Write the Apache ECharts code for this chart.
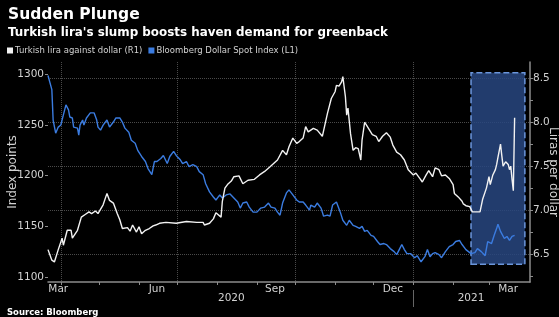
<!DOCTYPE html>
<html>
<head>
<meta charset="utf-8">
<script src="https://cdn.jsdelivr.net/npm/echarts@6/dist/echarts.min.js"></script>
<style>
  html, body { margin: 0; padding: 0; background: #000; }
  #chart { width: 559px; height: 317px; }
</style>
</head>
<body>
<div id="chart"></div>
<script>
// Turkish lira against dollar (R1)
var liraDates = ['2020-03-22','2020-03-25','2020-03-27','2020-03-30','2020-04-02','2020-04-03','2020-04-06','2020-04-09','2020-04-10','2020-04-14',
  '2020-04-17','2020-04-20','2020-04-23','2020-04-25','2020-04-28','2020-04-30','2020-05-04','2020-05-07','2020-05-09','2020-05-12',
  '2020-05-15','2020-05-17','2020-05-19','2020-05-23','2020-05-25','2020-05-27','2020-05-30','2020-06-01','2020-06-03','2020-06-06',
  '2020-06-09','2020-06-12','2020-06-14','2020-06-17','2020-06-22','2020-06-30','2020-07-08','2020-07-16','2020-07-21','2020-07-22',
  '2020-07-26','2020-07-29','2020-07-31','2020-08-04','2020-08-05','2020-08-07','2020-08-09','2020-08-12','2020-08-14','2020-08-18',
  '2020-08-21','2020-08-25','2020-08-30','2020-09-03','2020-09-07','2020-09-11','2020-09-17','2020-09-21','2020-09-24','2020-09-26',
  '2020-09-29','2020-10-02','2020-10-04','2020-10-07','2020-10-09','2020-10-11','2020-10-15','2020-10-18','2020-10-22','2020-10-24',
  '2020-10-26','2020-10-29','2020-11-01','2020-11-02','2020-11-04','2020-11-06','2020-11-07','2020-11-09','2020-11-10','2020-11-11',
  '2020-11-13','2020-11-15','2020-11-17','2020-11-19','2020-11-21','2020-11-22','2020-11-24','2020-11-27','2020-11-30','2020-12-03',
  '2020-12-05','2020-12-08','2020-12-11','2020-12-14','2020-12-16','2020-12-19','2020-12-22','2020-12-25','2020-12-28','2021-01-01',
  '2021-01-03','2021-01-06','2021-01-08','2021-01-11','2021-01-13','2021-01-16','2021-01-18','2021-01-21','2021-01-23','2021-01-26',
  '2021-01-29','2021-02-01','2021-02-02','2021-02-05','2021-02-08','2021-02-09','2021-02-11','2021-02-14','2021-02-16','2021-02-19',
  '2021-02-22','2021-02-24','2021-02-27','2021-03-01','2021-03-02','2021-03-04','2021-03-06','2021-03-07','2021-03-08','2021-03-10',
  '2021-03-11','2021-03-12','2021-03-14','2021-03-16','2021-03-17','2021-03-18','2021-03-19','2021-03-20','2021-03-21'];
var liraValues = [6.55,6.43,6.41,6.55,6.68,6.60,6.77,6.77,6.68,6.77,
  6.92,6.95,6.98,6.96,6.99,6.96,7.06,7.19,7.11,7.08,
  6.96,6.89,6.79,6.80,6.76,6.83,6.75,6.81,6.73,6.77,
  6.79,6.82,6.83,6.85,6.86,6.85,6.87,6.86,6.86,6.83,
  6.85,6.90,6.97,6.92,7.10,7.25,7.29,7.33,7.38,7.39,
  7.30,7.34,7.35,7.40,7.44,7.49,7.57,7.68,7.63,7.72,
  7.82,7.76,7.78,7.82,7.95,7.89,7.93,7.91,7.84,7.97,
  8.10,8.27,8.35,8.42,8.41,8.46,8.52,8.29,8.08,8.16,
  7.87,7.68,7.71,7.70,7.57,7.80,8.00,7.93,7.86,7.84,
  7.78,7.84,7.88,7.83,7.74,7.66,7.63,7.57,7.46,7.40,
  7.42,7.36,7.32,7.40,7.45,7.38,7.48,7.46,7.39,7.40,
  7.36,7.29,7.19,7.15,7.10,7.07,7.05,7.04,6.98,6.98,
  6.98,7.12,7.25,7.38,7.29,7.40,7.46,7.52,7.60,7.75,
  7.62,7.50,7.55,7.52,7.46,7.50,7.35,7.22,8.05];

// Bloomberg Dollar Spot Index (L1)
var dollarDates = ['2020-03-22','2020-03-25','2020-03-26','2020-03-28','2020-03-30','2020-04-01','2020-04-03','2020-04-05','2020-04-07','2020-04-08',
  '2020-04-10','2020-04-11','2020-04-14','2020-04-15','2020-04-16','2020-04-18','2020-04-19','2020-04-21','2020-04-24','2020-04-27',
  '2020-04-29','2020-04-30','2020-05-02','2020-05-04','2020-05-07','2020-05-09','2020-05-12','2020-05-14','2020-05-17','2020-05-19',
  '2020-05-21','2020-05-24','2020-05-26','2020-05-29','2020-05-31','2020-06-03','2020-06-06','2020-06-08','2020-06-11','2020-06-13',
  '2020-06-15','2020-06-18','2020-06-20','2020-06-23','2020-06-25','2020-06-28','2020-06-30','2020-07-03','2020-07-05','2020-07-08',
  '2020-07-10','2020-07-13','2020-07-16','2020-07-18','2020-07-21','2020-07-23','2020-07-26','2020-07-29','2020-07-31','2020-08-03',
  '2020-08-05','2020-08-08','2020-08-11','2020-08-14','2020-08-17','2020-08-19','2020-08-21','2020-08-24','2020-08-26','2020-08-29',
  '2020-09-01','2020-09-04','2020-09-07','2020-09-10','2020-09-12','2020-09-15','2020-09-17','2020-09-19','2020-09-21','2020-09-24',
  '2020-09-26','2020-09-29','2020-10-02','2020-10-04','2020-10-07','2020-10-09','2020-10-12','2020-10-13','2020-10-16','2020-10-18',
  '2020-10-21','2020-10-23','2020-10-26','2020-10-28','2020-10-30','2020-11-02','2020-11-03','2020-11-05','2020-11-07','2020-11-10',
  '2020-11-12','2020-11-15','2020-11-17','2020-11-20','2020-11-22','2020-11-24','2020-11-26','2020-11-29','2020-12-01','2020-12-04',
  '2020-12-06','2020-12-09','2020-12-11','2020-12-14','2020-12-17','2020-12-19','2020-12-21','2020-12-23','2020-12-25','2020-12-27',
  '2020-12-30','2021-01-02','2021-01-04','2021-01-07','2021-01-10','2021-01-12','2021-01-14','2021-01-16','2021-01-18','2021-01-21',
  '2021-01-23','2021-01-26','2021-01-29','2021-02-01','2021-02-03','2021-02-06','2021-02-08','2021-02-11','2021-02-15','2021-02-18',
  '2021-02-20','2021-02-23','2021-02-26','2021-02-28','2021-03-03','2021-03-05','2021-03-07','2021-03-08','2021-03-10','2021-03-13',
  '2021-03-15','2021-03-17','2021-03-19','2021-03-21'];
var dollarValues = [1299,1285,1255,1242,1248,1250,1260,1270,1265,1258,
  1257,1248,1247,1240,1250,1255,1250,1257,1262,1262,
  1255,1248,1245,1250,1255,1248,1253,1257,1257,1253,
  1247,1243,1235,1232,1225,1219,1214,1207,1201,1214,
  1214,1217,1220,1212,1219,1224,1220,1216,1212,1214,
  1209,1211,1209,1204,1201,1192,1184,1179,1176,1181,
  1178,1181,1182,1178,1174,1168,1173,1174,1169,1164,
  1164,1168,1169,1173,1169,1168,1164,1161,1173,1183,
  1186,1181,1176,1174,1174,1171,1166,1171,1169,1173,
  1168,1160,1161,1160,1171,1174,1173,1164,1156,1151,
  1156,1151,1150,1148,1150,1145,1146,1141,1140,1135,
  1132,1133,1132,1128,1125,1122,1127,1132,1127,1123,
  1123,1119,1121,1115,1120,1127,1120,1123,1124,1122,
  1119,1125,1130,1132,1135,1136,1132,1127,1123,1124,
  1128,1125,1121,1135,1133,1141,1148,1152,1145,1138,
  1140,1136,1140,1141];

// axis ticks and labels
var leftTicks = [1100, 1150, 1200, 1250, 1300];
var rightTicks = [6.5, 7.0, 7.5, 8.0, 8.5];
var rightMinorTicks = [6.25, 6.5, 6.75, 7.0, 7.25, 7.5, 7.75, 8.0, 8.25, 8.5];
var monthTicks = ['2020-04-01','2020-05-01','2020-06-01','2020-07-01','2020-08-01','2020-09-01','2020-10-01',
  '2020-11-01','2020-12-01','2021-01-01','2021-02-01','2021-03-01'];
var quarterLines = ['2020-04-01','2020-07-01','2020-10-01','2021-01-01'];
var monthLabels = ['2020-03-30','2020-06-15','2020-09-15','2020-12-16','2021-03-16'];
var yearLabels = ['2020-08-12','2021-02-15'];
var yearBreaks = ['2021-01-01'];
var highlightFrom = ['2021-02-15', 6.383];
var highlightTo = ['2021-03-29', 8.564];

var MONTHS = ['Jan','Feb','Mar','Apr','May','Jun','Jul','Aug','Sep','Oct','Nov','Dec'];
function ts(s) { return new Date(s + 'T00:00:00').getTime(); }
function zip(a, b) { return a.map(function (d, i) { return [ts(d), b[i]]; }); }

var xMin = ts('2020-03-22'), xMax = ts('2021-04-02');
var grey = '#8c8c8c', txt = '#d2d2d2';
var font = 'DejaVu Sans';

var chart = echarts.init(document.getElementById('chart'));
var option = {
    backgroundColor: '#000',
    textStyle: { fontFamily: font },
    animation: false,
    title: [
        { text: 'Sudden Plunge', left: 3, top: 2,
          textStyle: { color: '#fff', fontSize: 15.5, fontWeight: 'bold', fontFamily: font } },
        { text: "Turkish lira's slump boosts haven demand for greenback", left: 3, top: 22,
          textStyle: { color: '#fff', fontSize: 11.9, fontWeight: 'bold', fontFamily: font } },
        { text: 'Source: Bloomberg', left: 2, top: 303,
          textStyle: { color: '#fff', fontSize: 8.5, fontWeight: 'bold', fontFamily: font } }
    ],
    legend: {
        left: 2, top: 41, icon: 'rect', itemWidth: 6, itemHeight: 6, itemGap: 6,
        textStyle: { color: txt, fontSize: 8.5, padding: [0, 0, 0, -3] },
        data: ['Turkish lira against dollar (R1)', 'Bloomberg Dollar Spot Index (L1)']
    },
    grid: { left: 48, right: 29, top: 62, bottom: 35, outerBoundsMode: 'none' },
    xAxis: [
        {
            type: 'value', min: xMin, max: xMax,
            axisLine: { lineStyle: { color: grey, width: 1.5 } },
            axisTick: { customValues: monthTicks.map(ts), length: 3, lineStyle: { color: grey } },
            axisLabel: { customValues: monthLabels.map(ts), color: txt, fontSize: 10.5, margin: 2,
                formatter: function (v) { return MONTHS[new Date(v).getMonth()]; } },
            splitLine: { show: false }
        },
        {
            type: 'value', min: xMin, max: xMax, position: 'bottom', offset: 8,
            axisLine: { show: false },
            axisTick: { customValues: yearBreaks.map(ts), length: 17, lineStyle: { color: '#666' } },
            axisLabel: { customValues: yearLabels.map(ts), color: txt, fontSize: 10.5, margin: 3,
                formatter: function (v) { return String(new Date(v).getFullYear()); } },
            splitLine: { show: false }
        },
        {
            type: 'value', min: xMin, max: xMax,
            axisLine: { show: false },
            axisTick: { show: false, customValues: quarterLines.map(ts) },
            axisLabel: { show: false },
            splitLine: { show: true, lineStyle: { color: '#4a4a4a', type: 'dotted' } }
        }
    ],
    yAxis: [
        {
            type: 'value', min: 1095, max: 1312.3, position: 'left',
            name: 'Index points', nameLocation: 'middle', nameGap: 29, nameRotate: 90, nameMoveOverlap: false,
            nameTextStyle: { color: txt, fontSize: 12 },
            axisLine: { show: false },
            axisTick: { show: true, customValues: leftTicks, length: 3, lineStyle: { color: grey } },
            axisLabel: { customValues: leftTicks, color: txt, fontSize: 10.5, margin: 4,
                formatter: function (v) { return String(v); } },
            splitLine: { show: false }
        },
        {
            type: 'value', min: 6.1815, max: 8.6855, position: 'right',
            name: 'Liras per dollar', nameLocation: 'middle', nameGap: 17, nameRotate: -90, nameMoveOverlap: false,
            nameTextStyle: { color: txt, fontSize: 12 },
            axisLine: { show: true, lineStyle: { color: grey, width: 1.5 } },
            axisTick: { customValues: rightMinorTicks, length: 3, lineStyle: { color: grey } },
            axisLabel: { customValues: rightTicks, color: txt, fontSize: 10.5, margin: 3,
                formatter: function (v) { return v.toFixed(1); } },
            splitLine: { show: false }
        },
        {
            type: 'value', min: 6.1815, max: 8.6855, position: 'right',
            axisLine: { show: false },
            axisTick: { show: false, customValues: rightTicks },
            axisLabel: { show: false },
            splitLine: { show: true, lineStyle: { color: '#4a4a4a', type: 'dotted' } }
        }
    ],
    series: [
        {
            name: 'Bloomberg Dollar Spot Index (L1)', type: 'line', yAxisIndex: 0,
            data: zip(dollarDates, dollarValues), showSymbol: false, z: 3,
            lineStyle: { color: '#3b7ce0', width: 1.4 }, itemStyle: { color: '#3b7ce0' }
        },
        {
            name: 'Turkish lira against dollar (R1)', type: 'line', yAxisIndex: 1,
            data: zip(liraDates, liraValues), showSymbol: false, z: 4,
            lineStyle: { color: '#f2f2f2', width: 1.4 }, itemStyle: { color: '#f2f2f2' },
            markArea: {
                silent: true,
                itemStyle: { color: 'rgba(40,70,128,0.85)', borderColor: '#6b96dc', borderWidth: 1.5, borderType: 'dashed' },
                data: [[{ xAxis: ts(highlightFrom[0]), yAxis: highlightFrom[1] },
                        { xAxis: ts(highlightTo[0]), yAxis: highlightTo[1] }]]
            }
        }
    ]
};
chart.setOption(option);
</script>
</body>
</html>
